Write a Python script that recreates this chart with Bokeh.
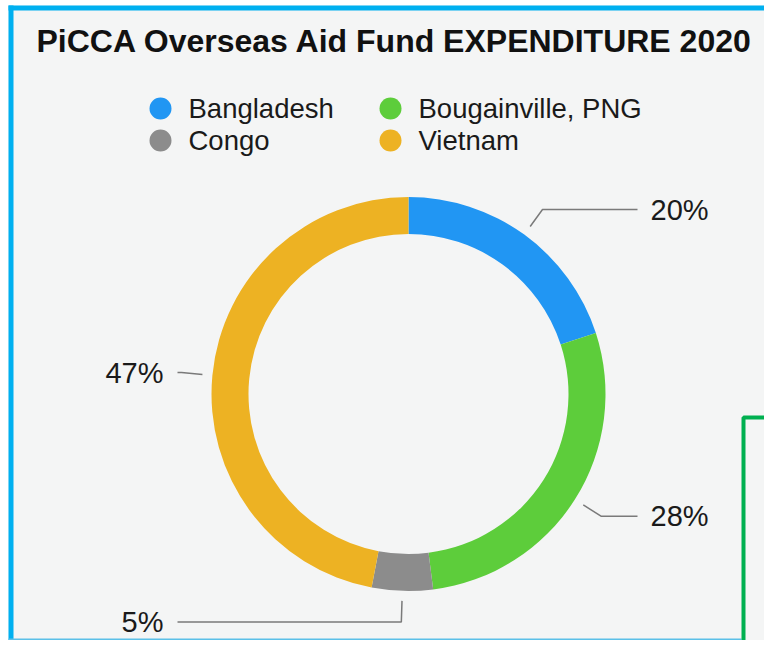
import numpy as np
from bokeh.plotting import figure
from bokeh.models import Range1d
from bokeh.embed import file_html
from bokeh.resources import INLINE
from bokeh.core.properties import value

# ---- data ----
title_text = "PiCCA Overseas Aid Fund EXPENDITURE 2020"
countries = ["Bangladesh", "Bougainville, PNG", "Congo", "Vietnam"]
shares = [20, 28, 5, 47]
colors = ["#2196F3", "#5DCD3B", "#8C8C8C", "#EDB223"]

# ---- canvas (data units == pixels) ----
W, H = 764, 640
FONT = value("Liberation Sans")


def X(px):
    return px


def Y(py):
    return H - py


p = figure(width=W, height=H, output_backend="svg", toolbar_location=None,
           x_range=Range1d(0, W), y_range=Range1d(0, H), min_border=0,
           x_axis_location=None, y_axis_location=None,
           background_fill_color="#FFFFFF", border_fill_color="#FFFFFF",
           outline_line_color=None)
p.grid.visible = False

# panel background and frame decorations
p.quad(left=X(8), right=W, bottom=0, top=Y(5), fill_color="#F4F5F5", line_color=None)
p.line(x=[X(10.5), X(10.5)], y=[0, Y(5)], line_color="#00B0F0", line_width=5)
p.line(x=[X(8), W], y=[Y(7.5), Y(7.5)], line_color="#00B0F0", line_width=5)
p.line(x=[X(8), X(741)], y=[1, 1], line_color="#5BC0E8", line_width=2)
p.line(x=[X(743), X(743), W], y=[0, Y(417), Y(417)], line_color="#00B050", line_width=4)

# title
p.text(x=[X(36)], y=[Y(40)], text=[title_text], text_font=FONT,
       text_font_size="32px", text_font_style="bold", text_color="#111111",
       text_baseline="middle", text_align="left")

# legend
for i, (name, col) in enumerate(zip(countries, colors)):
    cxl = X(160) + (i % 2) * 230
    cyl = Y(108) - (i // 2) * 32
    p.scatter(x=[cxl], y=[cyl], size=22, marker="circle", fill_color=col, line_color=None)
    p.text(x=[cxl + 28], y=[cyl], text=[name], text_font=FONT, text_font_size="27.5px",
           text_color="#1A1A1A", text_baseline="middle", text_align="left")

# donut
vals = np.array(shares, dtype=float)
frac = vals / vals.sum()
cum_end = np.cumsum(frac)
cum_start = cum_end - frac
cx, cy = X(408), Y(393.5)
p.annular_wedge(x=cx, y=cy, inner_radius=160, outer_radius=197,
                start_angle=np.pi / 2 - 2 * np.pi * cum_start,
                end_angle=np.pi / 2 - 2 * np.pi * cum_end,
                direction="clock", fill_color=colors, line_color=None)

# leader lines and labels
mid = 2 * np.pi * (cum_start + cum_end) / 2
sx, sy = np.sin(mid), np.cos(mid)
r1, r2 = 207, 228
xs, ys = [], []
for i, v in enumerate(shares):
    x1, y1 = cx + r1 * sx[i], cy + r1 * sy[i]
    x2, y2 = cx + r2 * sx[i], cy + r2 * sy[i]
    right = sx[i] >= 0
    x3 = cx + 229 if right else cx - 231
    xs.append([x1, x2, x3])
    ys.append([y1, y2, y2])
    p.text(x=[x3 + 13 if right else x3 - 14], y=[y2], text=[f"{v}%"], text_font=FONT,
           text_font_size="29px", text_color="#1A1A1A", text_baseline="middle",
           text_align="left" if right else "right")
p.multi_line(xs=xs, ys=ys, line_color="#7A7A7A", line_width=1.5)

open("out.html", "w").write(file_html(p, INLINE))
